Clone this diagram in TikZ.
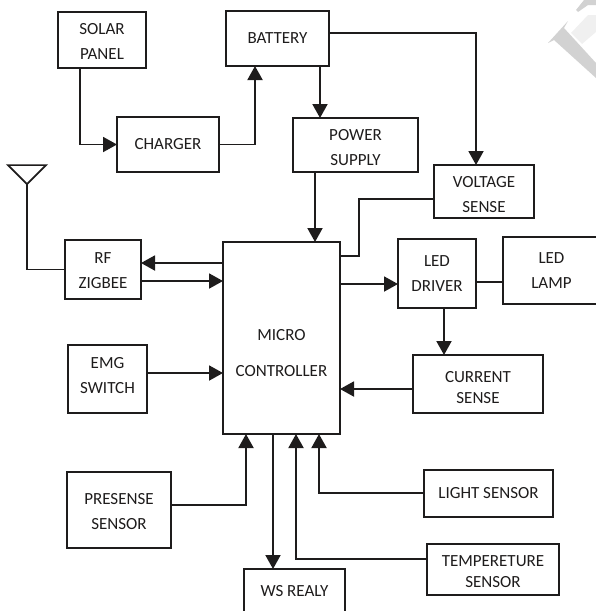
\documentclass[tikz,border=0pt]{standalone}
\usepackage{fontspec}
\setmainfont{Carlito}
\usetikzlibrary{arrows.meta, positioning, calc, shapes.geometric}
\definecolor{inkdark}{HTML}{1E1C1C}
\definecolor{markgray}{HTML}{D2D2D2}
\definecolor{marklight}{HTML}{F0F0F0}
\newcommand{\toppad}[1]{\rule{0pt}{#1pt}}
\tikzset{
    sysblock/.style={rectangle, draw=inkdark, line width=2.4pt, fill=white, outer sep=0pt, inner sep=0pt, align=center, text=inkdark, font=\fontsize{17}{25}\selectfont},
    sysline/.style={draw=inkdark, line width=1.9pt},
    sysarrow/.style={-{Triangle[length=14pt,width=15pt]}, sysline}
}

\begin{document}
\begin{tikzpicture}[x=1pt, y=-1pt]
    \useasboundingbox (0,0) rectangle (596,611);
    \clip (0,0) rectangle (596,611);

    % Faint mark in the corner
    \fill[marklight] (571,33) -- (588,15) -- (596,15) -- (596,32) -- (582,44) -- cycle;
    \fill[markgray] (548,43) -- (568,21) -- (564,28) -- (596,63) -- (596,78) -- (554,40) -- cycle;
    \fill[markgray] (576,10) -- (584,0) -- (596,0) -- (596,5) -- (588,5) -- (578,12) -- cycle;

    % Blocks
    \node[sysblock, minimum width=88pt, minimum height=56pt] (solar) at (102,40) {\toppad{14}SOLAR\\PANEL};
    \node[sysblock, minimum width=102pt, minimum height=55pt] (charger) at (168,144.5) {CHARGER};
    \node[sysblock, minimum width=103pt, minimum height=55pt] (battery) at (277.5,38.5) {BATTERY};
    \node[sysblock, minimum width=125pt, minimum height=54pt] (power) at (355.5,145) {\toppad{16}POWER\\SUPPLY};
    \node[sysblock, minimum width=100pt, minimum height=53pt] (voltage) at (484,191.5) {\toppad{18}VOLTAGE\\SENSE};
    \node[sysblock, minimum width=76pt, minimum height=59pt] (rf) at (103,269.5) {\toppad{14}RF\\ZIGBEE};
    \node[sysblock, minimum width=117pt, minimum height=192pt, font=\fontsize{17}{36}\selectfont] (micro) at (281.5,338) {\toppad{41}MICRO\\CONTROLLER};
    \node[sysblock, minimum width=78pt, minimum height=69pt] (driver) at (437,273.5) {LED\\DRIVER};
    \node[sysblock, minimum width=97pt, minimum height=67pt] (lamp) at (551.5,270.5) {LED\\LAMP};
    \node[sysblock, minimum width=79pt, minimum height=68pt] (emg) at (107.5,379) {EMG\\SWITCH\rule[-8pt]{0pt}{0pt}};
    \node[sysblock, minimum width=130pt, minimum height=58pt, font=\fontsize{17}{21}\selectfont] (current) at (478,384) {\toppad{18}CURRENT\\SENSE};
    \node[sysblock, minimum width=104pt, minimum height=76pt] (presense) at (119,510) {\toppad{15}PRESENSE\\SENSOR};
    \node[sysblock, minimum width=129pt, minimum height=47pt] (light) at (488.5,493.5) {LIGHT SENSOR};
    \node[sysblock, minimum width=132pt, minimum height=51pt, font=\fontsize{17}{21}\selectfont] (temp) at (493,569.5) {\toppad{16}TEMPERETURE\\SENSOR};
    \node[sysblock, minimum width=101pt, minimum height=44pt] (relay) at (294.5,591) {WS REALY};

    % Antenna
    \node[isosceles triangle, isosceles triangle apex angle=90, shape border rotate=-90, draw=inkdark, line width=1.7pt, minimum width=38pt, inner sep=0pt, outer sep=0pt] (antenna) at (27,173) {};

    % Power path
    \draw[sysarrow] (80,0 |- solar.south) |- (charger.west);
    \draw[sysarrow] (charger.east) -| (255,0 |- battery.south);
    \draw[sysarrow] (320,0 |- battery.south) -- (320,0 |- power.north);
    \draw[sysarrow] (battery.east |- 0,33) -| (476,0 |- voltage.north);
    \draw[sysarrow] (315,0 |- power.south) -- (315,0 |- micro.north);
    \draw[sysline] (voltage.west |- 0,199) -| (359,256) -- (micro.east |- 0,256);

    % Radio and inputs on the left
    \draw[sysline] (antenna.south) |- (rf.west);
    \draw[sysarrow] (micro.west |- 0,263) -- (rf.east |- 0,263);
    \draw[sysarrow] (rf.east |- 0,281) -- (micro.west |- 0,281);
    \draw[sysarrow] (emg.east |- 0,373) -- (micro.west |- 0,373);
    \draw[sysarrow] (presense.east |- 0,505) -| (246,0 |- micro.south);

    % LED branch
    \draw[sysarrow] (micro.east |- 0,284) -- (driver.west |- 0,284);
    \draw[sysline] (driver.east |- 0,282) -- (lamp.west |- 0,282);
    \draw[sysarrow] (444,0 |- driver.south) -- (444,0 |- current.north);
    \draw[sysarrow] (current.west |- 0,389) -- (micro.east |- 0,389);

    % Bottom connections
    \draw[sysarrow] (273,0 |- micro.south) -- (273,0 |- relay.north);
    \draw[sysarrow] (temp.west |- 0,559) -| (296,0 |- micro.south);
    \draw[sysarrow] (light.west |- 0,493) -| (319,0 |- micro.south);
\end{tikzpicture}
\end{document}
